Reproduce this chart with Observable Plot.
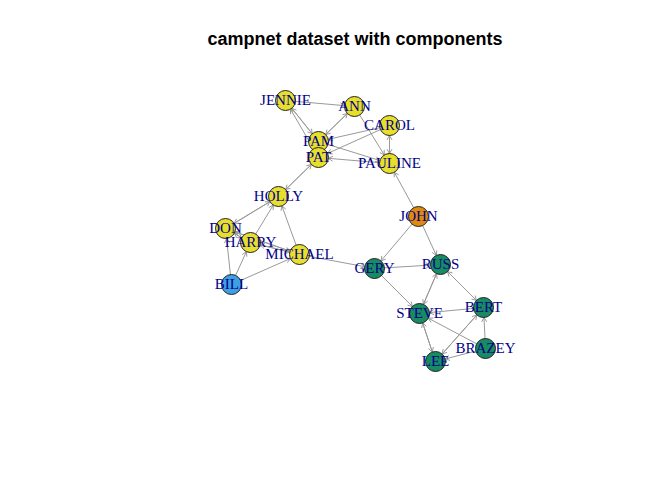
<!DOCTYPE html>
<html><head><meta charset="utf-8">
<script src="https://cdn.jsdelivr.net/npm/d3@7"></script>
<script src="https://cdn.jsdelivr.net/npm/@observablehq/plot@0.6"></script>
<style>
body { margin: 0; background: #fff; }
#wrap { position: relative; width: 672px; height: 480px; }
#title { position: absolute; top: 29px; left: 0; width: 710px; text-align: center; font: bold 18px "Liberation Sans", Arial, sans-serif; }
</style>
</head><body>
<div id="wrap"><div id="title">campnet dataset with components</div></div>
<script>
const names = ["JENNIE","ANN","CAROL","PAM","PAT","PAULINE","HOLLY","DON","HARRY","MICHAEL","BILL","JOHN","GERY","RUSS","BERT","STEVE","LEE","BRAZEY"];
const xs = [285,354,389,318,318,389,278,225,250,299,231,418,374,440,483,419,435,485];
const ys = [100,106,125,141,157,163,196,228,242,254,284,216,268,264,307,313,361,348];
const component = [1,1,1,1,1,1,1,1,1,1,2,3,4,4,4,4,4,4];
const compColors = {1: "#e8df2a", 2: "#3e9fe3", 3: "#df8a0c", 4: "#178b62"};
// directed ties [from, to]
const edges = [
  ["JENNIE","ANN"],["ANN","PAM"],["PAM","ANN"],["JENNIE","PAM"],["PAM","JENNIE"],["PAT","JENNIE"],
  ["PAM","PAULINE"],["CAROL","PAM"],["CAROL","PAT"],["ANN","PAULINE"],["CAROL","PAULINE"],["PAULINE","CAROL"],
  ["PAULINE","PAT"],["PAT","HOLLY"],["HOLLY","PAT"],["HOLLY","DON"],["DON","HOLLY"],["DON","MICHAEL"],["MICHAEL","DON"],
  ["HARRY","HOLLY"],["MICHAEL","HOLLY"],["HARRY","MICHAEL"],["MICHAEL","HARRY"],["DON","HARRY"],["HARRY","DON"],
  ["BILL","HARRY"],["BILL","MICHAEL"],["BILL","DON"],["MICHAEL","GERY"],
  ["JOHN","PAULINE"],["JOHN","GERY"],["JOHN","RUSS"],["GERY","RUSS"],["GERY","STEVE"],["RUSS","STEVE"],["STEVE","RUSS"],
  ["RUSS","BERT"],["BERT","RUSS"],["BERT","STEVE"],["STEVE","LEE"],["LEE","STEVE"],["LEE","BERT"],["BERT","LEE"],
  ["BRAZEY","LEE"],["BRAZEY","BERT"],["BRAZEY","STEVE"]
];
const nodes = names.map((n, i) => ({name: n, x: xs[i], y: ys[i], comp: component[i]}));
const idx = Object.fromEntries(names.map((n, i) => [n, i]));
const links = edges.map(([a, b]) => ({x1: xs[idx[a]], y1: ys[idx[a]], x2: xs[idx[b]], y2: ys[idx[b]]}));

const plt = Plot.plot({
  width: 672, height: 480,
  margin: 0,
  x: {domain: [0, 672], range: [0, 672], axis: null},
  y: {domain: [0, 480], range: [0, 480], axis: null},
  marks: [
    Plot.arrow(links, {x1: "x1", y1: "y1", x2: "x2", y2: "y2", stroke: "#999", strokeWidth: 1, headLength: 7, insetEnd: 10, insetStart: 9, strokeOpacity: 1}),
    Plot.dot(nodes, {x: "x", y: "y", r: 10, fill: d => compColors[d.comp], stroke: "#222", strokeWidth: 1}),
    Plot.text(nodes, {x: "x", y: "y", text: "name", fill: "#00008b", fontSize: 15, fontFamily: "Liberation Serif, Times New Roman, serif"})
  ]
});
document.querySelector("#wrap").append(plt);
plt.style.position = "absolute"; plt.style.top = "0"; plt.style.left = "0";
</script>
</body></html>
